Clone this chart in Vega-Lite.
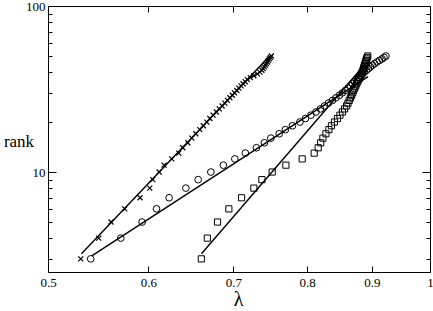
{
  "$schema": "https://vega.github.io/schema/vega-lite/v6.json",
  "width": 382,
  "height": 266,
  "autosize": {"type": "none"},
  "padding": {"left": 48, "top": 6, "right": 3, "bottom": 39},
  "background": "white",
  "config": {
    "font": "serif",
    "view": {"stroke": "black", "strokeWidth": 1},
    "axis": {"grid": false, "domain": false, "labelFont": "serif", "titleFont": "serif", "labelFontSize": 13, "labelColor": "black", "tickColor": "black", "titleColor": "black", "titleFontWeight": "normal", "labelFlush": false, "labelOverlap": false, "tickWidth": 1}
  },
  "datasets": {
    "cross": [
      {"lambda": 0.5306, "rank": 3}, {"lambda": 0.5482, "rank": 4}, {"lambda": 0.5606, "rank": 5}, {"lambda": 0.5747, "rank": 6},
      {"lambda": 0.5909, "rank": 7}, {"lambda": 0.6014, "rank": 8}, {"lambda": 0.6047, "rank": 9}, {"lambda": 0.6117, "rank": 10},
      {"lambda": 0.6172, "rank": 11}, {"lambda": 0.6259, "rank": 12}, {"lambda": 0.6339, "rank": 13}, {"lambda": 0.6386, "rank": 14},
      {"lambda": 0.6444, "rank": 15}, {"lambda": 0.6491, "rank": 16}, {"lambda": 0.6538, "rank": 17}, {"lambda": 0.6586, "rank": 18},
      {"lambda": 0.6628, "rank": 19}, {"lambda": 0.6670, "rank": 20}, {"lambda": 0.6707, "rank": 21}, {"lambda": 0.6747, "rank": 22},
      {"lambda": 0.6786, "rank": 23}, {"lambda": 0.6822, "rank": 24}, {"lambda": 0.6858, "rank": 25}, {"lambda": 0.6892, "rank": 26},
      {"lambda": 0.6924, "rank": 27}, {"lambda": 0.6955, "rank": 28}, {"lambda": 0.6986, "rank": 29}, {"lambda": 0.7014, "rank": 30},
      {"lambda": 0.7044, "rank": 31}, {"lambda": 0.7069, "rank": 32}, {"lambda": 0.7097, "rank": 33}, {"lambda": 0.7123, "rank": 34},
      {"lambda": 0.7151, "rank": 35}, {"lambda": 0.7179, "rank": 36}, {"lambda": 0.7218, "rank": 37}, {"lambda": 0.7264, "rank": 38},
      {"lambda": 0.7311, "rank": 39}, {"lambda": 0.7344, "rank": 40}, {"lambda": 0.7371, "rank": 41}, {"lambda": 0.7388, "rank": 42},
      {"lambda": 0.7404, "rank": 43}, {"lambda": 0.7418, "rank": 44}, {"lambda": 0.7431, "rank": 45}, {"lambda": 0.7445, "rank": 46},
      {"lambda": 0.7458, "rank": 47}, {"lambda": 0.7472, "rank": 48}, {"lambda": 0.7485, "rank": 49}, {"lambda": 0.7499, "rank": 50}
    ],
    "circle": [
      {"lambda": 0.5403, "rank": 3}, {"lambda": 0.5706, "rank": 4}, {"lambda": 0.5931, "rank": 5}, {"lambda": 0.6088, "rank": 6},
      {"lambda": 0.6229, "rank": 7}, {"lambda": 0.6421, "rank": 8}, {"lambda": 0.6566, "rank": 9}, {"lambda": 0.6719, "rank": 10},
      {"lambda": 0.6873, "rank": 11}, {"lambda": 0.7018, "rank": 12}, {"lambda": 0.7153, "rank": 13}, {"lambda": 0.7298, "rank": 14},
      {"lambda": 0.7404, "rank": 15}, {"lambda": 0.7492, "rank": 16}, {"lambda": 0.7606, "rank": 17}, {"lambda": 0.7692, "rank": 18},
      {"lambda": 0.7791, "rank": 19}, {"lambda": 0.7897, "rank": 20}, {"lambda": 0.7977, "rank": 21}, {"lambda": 0.8057, "rank": 22},
      {"lambda": 0.8130, "rank": 23}, {"lambda": 0.8197, "rank": 24}, {"lambda": 0.8257, "rank": 25}, {"lambda": 0.8317, "rank": 26},
      {"lambda": 0.8378, "rank": 27}, {"lambda": 0.8431, "rank": 28}, {"lambda": 0.8485, "rank": 29}, {"lambda": 0.8531, "rank": 30},
      {"lambda": 0.8578, "rank": 31}, {"lambda": 0.8617, "rank": 32}, {"lambda": 0.8656, "rank": 33}, {"lambda": 0.8687, "rank": 34},
      {"lambda": 0.8719, "rank": 35}, {"lambda": 0.8751, "rank": 36}, {"lambda": 0.8783, "rank": 37}, {"lambda": 0.8815, "rank": 38},
      {"lambda": 0.8847, "rank": 39}, {"lambda": 0.8879, "rank": 40}, {"lambda": 0.8911, "rank": 41}, {"lambda": 0.8944, "rank": 42},
      {"lambda": 0.8976, "rank": 43}, {"lambda": 0.9009, "rank": 44}, {"lambda": 0.9042, "rank": 45}, {"lambda": 0.9083, "rank": 46},
      {"lambda": 0.9124, "rank": 47}, {"lambda": 0.9166, "rank": 48}, {"lambda": 0.9199, "rank": 49}, {"lambda": 0.9232, "rank": 50}
    ],
    "square": [
      {"lambda": 0.6604, "rank": 3}, {"lambda": 0.6676, "rank": 4}, {"lambda": 0.6801, "rank": 5}, {"lambda": 0.6942, "rank": 6},
      {"lambda": 0.7104, "rank": 7}, {"lambda": 0.7264, "rank": 8}, {"lambda": 0.7371, "rank": 9}, {"lambda": 0.7510, "rank": 10},
      {"lambda": 0.7699, "rank": 11}, {"lambda": 0.7930, "rank": 12}, {"lambda": 0.8105, "rank": 13}, {"lambda": 0.8164, "rank": 14},
      {"lambda": 0.8201, "rank": 15}, {"lambda": 0.8234, "rank": 16}, {"lambda": 0.8279, "rank": 17}, {"lambda": 0.8324, "rank": 18},
      {"lambda": 0.8362, "rank": 19}, {"lambda": 0.8408, "rank": 20}, {"lambda": 0.8454, "rank": 21}, {"lambda": 0.8492, "rank": 22},
      {"lambda": 0.8531, "rank": 23}, {"lambda": 0.8565, "rank": 24}, {"lambda": 0.8596, "rank": 25}, {"lambda": 0.8617, "rank": 26},
      {"lambda": 0.8637, "rank": 27}, {"lambda": 0.8656, "rank": 28}, {"lambda": 0.8675, "rank": 29}, {"lambda": 0.8691, "rank": 30},
      {"lambda": 0.8706, "rank": 31}, {"lambda": 0.8722, "rank": 32}, {"lambda": 0.8738, "rank": 33}, {"lambda": 0.8754, "rank": 34},
      {"lambda": 0.8770, "rank": 35}, {"lambda": 0.8786, "rank": 36}, {"lambda": 0.8802, "rank": 37}, {"lambda": 0.8818, "rank": 38},
      {"lambda": 0.8832, "rank": 39}, {"lambda": 0.8843, "rank": 40}, {"lambda": 0.8855, "rank": 41}, {"lambda": 0.8864, "rank": 42},
      {"lambda": 0.8872, "rank": 43}, {"lambda": 0.8880, "rank": 44}, {"lambda": 0.8889, "rank": 45}, {"lambda": 0.8897, "rank": 46},
      {"lambda": 0.8905, "rank": 47}, {"lambda": 0.8913, "rank": 48}, {"lambda": 0.8922, "rank": 49}, {"lambda": 0.8932, "rank": 50}
    ],
    "fits": [
      {"series": "cross", "lambda": 0.5313, "rank": 3.22}, {"series": "cross", "lambda": 0.7469, "rank": 49.7},
      {"series": "circle", "lambda": 0.5413, "rank": 3.13}, {"series": "circle", "lambda": 0.8936, "rank": 37.55},
      {"series": "square", "lambda": 0.6606, "rank": 3.22}, {"series": "square", "lambda": 0.8921, "rank": 46.2}
    ]
  },
  "layer": [
    {
      "data": {"name": "fits"},
      "mark": {"type": "line", "stroke": "black", "strokeWidth": 1.4},
      "encoding": {
        "x": {"field": "lambda", "type": "quantitative", "scale": {"type": "log", "domain": [0.5, 1], "nice": false},
          "axis": {"orient": "bottom", "values": [0.5, 0.6, 0.7, 0.8, 0.9, 1], "format": "~g", "tickSize": -6, "labelPadding": 10,
            "labelFont": "serif", "titleFont": "serif",
            "title": "λ", "titleFontSize": 20, "titleX": 190, "titleY": 33, "titleBaseline": "alphabetic", "titleAlign": "center"}},
        "y": {"field": "rank", "type": "quantitative", "scale": {"type": "log", "domain": [2.5, 100], "nice": false},
          "axis": {"orient": "left", "values": [10, 100], "format": "~g", "tickSize": -8, "labelPadding": 11,
            "labelFont": "serif", "titleFont": "serif",
            "title": "rank", "titleAngle": 0, "titleFontSize": 17, "titleX": -29.5, "titleY": 140, "titleAlign": "center", "titleBaseline": "alphabetic"}},
        "detail": {"field": "series", "type": "nominal"}
      }
    },
    {
      "data": {"name": "cross"},
      "mark": {"type": "point", "shape": "M-1,-1L1,1M-1,1L1,-1", "filled": false, "stroke": "black", "strokeWidth": 1.2, "size": 25, "opacity": 1},
      "encoding": {
        "x": {"field": "lambda", "type": "quantitative", "scale": {"type": "log", "domain": [0.5, 1], "nice": false},
          "axis": {"orient": "top", "values": [0.6, 0.7, 0.8, 0.9], "labels": false, "tickSize": -6, "title": null}},
        "y": {"field": "rank", "type": "quantitative", "scale": {"type": "log", "domain": [2.5, 100], "nice": false},
          "axis": {"orient": "left", "values": [3, 4, 5, 6, 7, 8, 9, 20, 30, 40, 50, 60, 70, 80, 90], "labels": false, "tickSize": -4, "title": null}}
      }
    },
    {
      "data": {"name": "circle"},
      "mark": {"type": "point", "shape": "circle", "filled": false, "stroke": "black", "strokeWidth": 1, "size": 45, "opacity": 1},
      "encoding": {
        "x": {"field": "lambda", "type": "quantitative", "scale": {"type": "log", "domain": [0.5, 1], "nice": false}, "axis": null},
        "y": {"field": "rank", "type": "quantitative", "scale": {"type": "log", "domain": [2.5, 100], "nice": false},
          "axis": {"orient": "right", "values": [10, 100], "labels": false, "tickSize": -8, "title": null}}
      }
    },
    {
      "data": {"name": "square"},
      "mark": {"type": "point", "shape": "square", "filled": false, "stroke": "black", "strokeWidth": 1, "size": 38, "opacity": 1},
      "encoding": {
        "x": {"field": "lambda", "type": "quantitative", "scale": {"type": "log", "domain": [0.5, 1], "nice": false}, "axis": null},
        "y": {"field": "rank", "type": "quantitative", "scale": {"type": "log", "domain": [2.5, 100], "nice": false},
          "axis": {"orient": "right", "values": [3, 4, 5, 6, 7, 8, 9, 20, 30, 40, 50, 60, 70, 80, 90], "labels": false, "tickSize": -4, "title": null}}
      }
    }
  ],
  "resolve": {"axis": {"x": "independent", "y": "independent"}}
}
